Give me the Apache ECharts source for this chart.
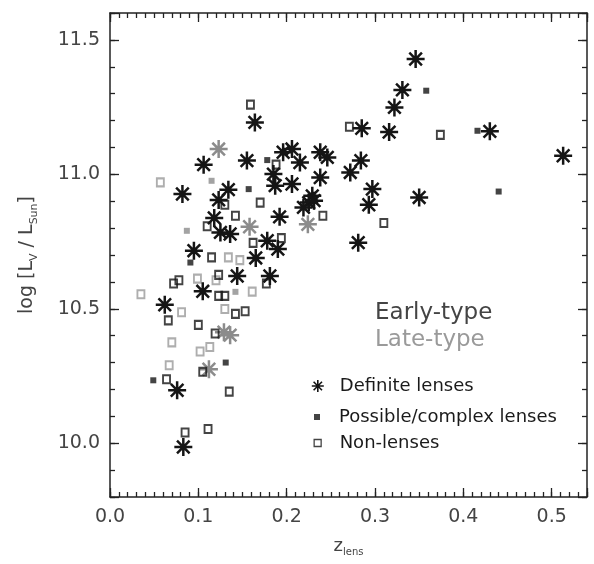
<!DOCTYPE html>
<html><head><meta charset="utf-8">
<script src="https://cdn.jsdelivr.net/npm/echarts@6/dist/echarts.min.js"></script>
<style>html,body{margin:0;padding:0;background:#fff}#c{width:594px;height:564px}</style>
</head><body><div id="c"></div>
<script>
const xTickLabels = ['0.0','0.1','0.2','0.3','0.4','0.5'];
const yTickLabels = ['10.0','10.5','11.0','11.5'];

const earlyDefinite = [[0.346,11.429],[0.331,11.314],[0.322,11.249],[0.285,11.171],[0.316,11.157],[0.430,11.160],[0.513,11.069],[0.350,10.914],[0.281,10.746],[0.284,11.051],[0.272,11.007],[0.297,10.945],[0.293,10.887],[0.164,11.193],[0.106,11.036],[0.155,11.051],[0.196,11.082],[0.206,11.094],[0.215,11.044],[0.238,11.082],[0.246,11.063],[0.185,11.001],[0.187,10.958],[0.206,10.964],[0.238,10.988],[0.229,10.920],[0.225,10.895],[0.219,10.877],[0.231,10.902],[0.192,10.842],[0.082,10.927],[0.134,10.943],[0.123,10.905],[0.118,10.838],[0.125,10.784],[0.136,10.778],[0.178,10.753],[0.190,10.722],[0.095,10.716],[0.165,10.689],[0.144,10.622],[0.181,10.622],[0.105,10.565],[0.062,10.515],[0.076,10.197],[0.083,9.986]];
const earlyPossible = [[0.358,11.311],[0.416,11.162],[0.440,10.936],[0.178,11.053],[0.157,10.945],[0.091,10.672],[0.131,10.300],[0.049,10.234]];
const earlyNon = [[0.159,11.259],[0.271,11.177],[0.374,11.147],[0.188,11.036],[0.241,10.846],[0.310,10.819],[0.170,10.895],[0.130,10.887],[0.142,10.846],[0.110,10.807],[0.162,10.745],[0.194,10.763],[0.115,10.691],[0.072,10.594],[0.078,10.606],[0.123,10.626],[0.177,10.594],[0.123,10.548],[0.130,10.548],[0.066,10.457],[0.100,10.440],[0.142,10.481],[0.153,10.491],[0.119,10.408],[0.105,10.266],[0.064,10.238],[0.135,10.192],[0.085,10.040],[0.111,10.053]];
const lateDefinite = [[0.123,11.094],[0.224,10.814],[0.158,10.805],[0.129,10.413],[0.136,10.402],[0.112,10.275]];
const latePossible = [[0.115,10.976],[0.087,10.790],[0.142,10.563]];
const lateNon = [[0.057,10.970],[0.035,10.554],[0.099,10.612],[0.120,10.606],[0.134,10.691],[0.147,10.681],[0.161,10.564],[0.081,10.487],[0.130,10.499],[0.070,10.375],[0.102,10.341],[0.113,10.358],[0.067,10.290]];

const BLACK = '#151515', GRAY = '#8c8c8c', GRAYSQ = '#9a9a9a';
const FONT = 'DejaVu Sans';
const ASTER = 'path://M10,0L10,20M0,10L20,10M3,3L17,17M3,17L17,3';

const chart = echarts.init(document.getElementById('c'), null, {renderer: 'canvas'});

function fmt(list) {
  return v => {
    for (const s of list) { if (Math.abs(parseFloat(s) - v) < 1e-6) return s; }
    return '';
  };
}
const lineStyle = {color: '#222', width: 1.5};
const tickStyle = {color: '#222', width: 1.3};
function xAx(grid, pos, major, showLabel) {
  return {
    type: 'value', gridIndex: grid, position: pos, min: 0, max: 0.54,
    interval: major ? 0.1 : 0.01,
    axisLine: {show: major, onZero: false, lineStyle},
    axisTick: {show: true, inside: true, length: major ? 9 : 5, lineStyle: tickStyle},
    axisLabel: {show: showLabel, formatter: fmt(xTickLabels), color: '#444', fontFamily: FONT, fontSize: 19, margin: 11},
    splitLine: {show: false},
    name: showLabel ? '{a|z}{s|lens}' : '',
    nameLocation: 'middle', nameGap: 38,
    nameTextStyle: {rich: {
      a: {fontFamily: FONT, fontSize: 18, color: '#444', lineHeight: 22, verticalAlign: 'middle'},
      s: {fontFamily: FONT, fontSize: 10, color: '#444', lineHeight: 22, verticalAlign: 'bottom'}
    }}
  };
}
function yAx(grid, pos, major, showLabel) {
  const o = {
    type: 'value', gridIndex: grid, position: pos, min: 9.8, max: 11.6,
    axisLine: {show: major, onZero: false, lineStyle},
    axisTick: {show: true, inside: true, length: major ? 9 : 5, lineStyle: tickStyle},
    axisLabel: {show: showLabel, formatter: fmt(yTickLabels), color: '#444', fontFamily: FONT, fontSize: 19, margin: 10},
    splitLine: {show: false},
    name: showLabel ? '{a|log [L}{s|V}{a| / L}{s|Sun}{a|]}' : '',
    nameLocation: 'middle', nameGap: 70, nameRotate: 90,
    nameTextStyle: {rich: {
      a: {fontFamily: FONT, fontSize: 19, color: '#444', lineHeight: 26, verticalAlign: 'middle'},
      s: {fontFamily: FONT, fontSize: 11, color: '#444', lineHeight: 26, verticalAlign: 'bottom'}
    }}
  };
  if (major) o.splitNumber = 4; else o.interval = 0.1;
  return o;
}

function series(name, data, kind, color) {
  const s = {type: 'scatter', name, data, xAxisIndex: 0, yAxisIndex: 0, z: color === BLACK ? 3 : 2};
  if (kind === 'def') {
    s.symbol = ASTER; s.symbolSize = 18;
    s.itemStyle = {color: color, borderColor: color, borderWidth: 2.5, opacity: 1};
  } else if (kind === 'pos') {
    s.symbol = 'rect'; s.symbolSize = 6;
    s.itemStyle = {color: color, borderWidth: 0};
  } else {
    s.symbol = 'rect'; s.symbolSize = [7, 8];
    s.itemStyle = {color: 'rgba(255,255,255,0)', borderColor: color === BLACK ? BLACK : GRAYSQ, borderWidth: 2};
  }
  s.emphasis = {disabled: true};
  return s;
}

function legendItem(name, top, size, iconStyle) {
  return {
    data: [name], orient: 'vertical', left: 317 - size / 2, top: top - size / 2, padding: 0,
    itemWidth: size, itemHeight: size, selectedMode: false,
    itemStyle: iconStyle,
    textStyle: {fontFamily: FONT, fontSize: 18, color: '#1a1a1a', padding: [0, 0, 0, 339 - (317 + size / 2) - 5]}
  };
}

const gridRect = {left: 110, right: 7, top: 13, bottom: 67, containLabel: false};
chart.setOption({
  animation: false,
  backgroundColor: '#fff',
  grid: [Object.assign({}, gridRect), Object.assign({}, gridRect)],
  xAxis: [xAx(0, 'bottom', true, true), xAx(0, 'top', true, false), xAx(1, 'bottom', false, false), xAx(1, 'top', false, false)],
  yAxis: [yAx(0, 'left', true, true), yAx(0, 'right', true, false), yAx(1, 'left', false, false), yAx(1, 'right', false, false)],
  legend: [
    legendItem('Definite lenses', 383, 12, {borderWidth: 1.6}),
    legendItem('Possible/complex lenses', 411, 6, {}),
    legendItem('Non-lenses', 437.5, 7, {borderWidth: 1.3})
  ],
  graphic: [
    {type: 'text', left: 375, top: 302, style: {text: 'Early-type', font: '23px "DejaVu Sans"', fill: '#444'}},
    {type: 'text', left: 375, top: 329, style: {text: 'Late-type', font: '23px "DejaVu Sans"', fill: '#9a9a9a'}}
  ],
  series: [
    series('Non-lenses (late-type)', lateNon, 'non', GRAY),
    series('Possible/complex lenses (late-type)', latePossible, 'pos', GRAY),
    series('Definite lenses (late-type)', lateDefinite, 'def', GRAY),
    series('Non-lenses', earlyNon, 'non', BLACK),
    series('Possible/complex lenses', earlyPossible, 'pos', BLACK),
    series('Definite lenses', earlyDefinite, 'def', BLACK)
  ]
});
</script></body></html>
